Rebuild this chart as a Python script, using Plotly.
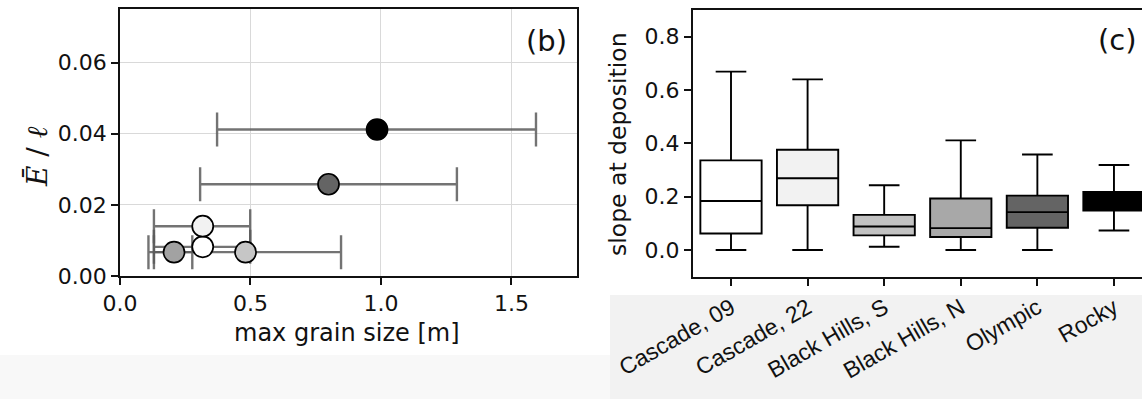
import plotly.graph_objects as go

W, H = 1142, 399

# ---------- panel (b): erosion rate vs. max grain size ----------
regions = ["Cascade, 09", "Cascade, 22", "Black Hills, S", "Black Hills, N", "Olympic", "Rocky"]
grain_size = [0.317, 0.317, 0.481, 0.207, 0.799, 0.985]
grain_low = [0.130, 0.130, 0.130, 0.109, 0.307, 0.372]
grain_high = [0.499, 0.499, 0.847, 0.277, 1.291, 1.594]
erosion_ratio = [0.0082, 0.0140, 0.0067, 0.0067, 0.0258, 0.0412]
point_colors = ["#ffffff", "#f2f2f2", "#c6c6c6", "#a2a2a2", "#646464", "#000000"]

# ---------- panel (c): slope at deposition ----------
slope_lower = [0.0, 0.0, 0.0125, 0.0, 0.0, 0.0735]
slope_q1 = [0.062, 0.168, 0.055, 0.049, 0.0835, 0.148]
slope_median = [0.184, 0.269, 0.0885, 0.082, 0.142, 0.180]
slope_q3 = [0.336, 0.376, 0.132, 0.193, 0.204, 0.218]
slope_upper = [0.669, 0.640, 0.243, 0.411, 0.358, 0.319]
box_colors = ["#ffffff", "#f2f2f2", "#c2c2c2", "#a8a8a8", "#646464", "#000000"]


def px_x(p):
    return p / W


def px_y(p):
    return 1 - p / H


fig = go.Figure()

fig.add_trace(go.Scatter(
    x=grain_size,
    y=erosion_ratio,
    mode="markers",
    marker=dict(size=21, color=point_colors, line=dict(color="#000000", width=1.7)),
    error_x=dict(
        type="data",
        symmetric=False,
        array=[h - x for h, x in zip(grain_high, grain_size)],
        arrayminus=[x - l for l, x in zip(grain_low, grain_size)],
        color="rgba(90,90,90,0.85)",
        thickness=2.4,
        width=17,
    ),
    xaxis="x",
    yaxis="y",
    showlegend=False,
    hoverinfo="skip",
))

for i, name in enumerate(regions):
    fig.add_trace(go.Box(
        x=[i],
        lowerfence=[slope_lower[i]],
        q1=[slope_q1[i]],
        median=[slope_median[i]],
        q3=[slope_q3[i]],
        upperfence=[slope_upper[i]],
        width=0.8,
        whiskerwidth=0.5,
        fillcolor=box_colors[i],
        line=dict(color="#000000", width=1.9),
        boxpoints=False,
        name=name,
        xaxis="x2",
        yaxis="y2",
        showlegend=False,
        hoverinfo="skip",
    ))

tick_font = dict(family="DejaVu Sans", size=22, color="#111111")
frame = dict(showline=True, linecolor="#111111", linewidth=1.6,
             ticks="outside", ticklen=7, tickwidth=1.5, tickcolor="#111111",
             tickfont=tick_font, zeroline=False, automargin=False)

fig.update_layout(
    width=W,
    height=H,
    margin=dict(l=0, r=0, t=0, b=0, autoexpand=False),
    paper_bgcolor="#ffffff",
    plot_bgcolor="#ffffff",
    xaxis=dict(
        domain=[px_x(120), px_x(576.7)],
        range=[0, 1.75],
        tickvals=[0, 0.5, 1.0, 1.5],
        ticktext=["0.0", "0.5", "1.0", "1.5"],
        showgrid=True, gridcolor="#d9d9d9", gridwidth=1,
        mirror=True, anchor="y",
        **frame,
    ),
    yaxis=dict(
        domain=[px_y(276), px_y(9.3)],
        range=[0, 0.075],
        tickvals=[0, 0.02, 0.04, 0.06],
        ticktext=["0.00", "0.02", "0.04", "0.06"],
        showgrid=True, gridcolor="#d9d9d9", gridwidth=1,
        mirror=True, anchor="x",
        **frame,
    ),
    xaxis2=dict(
        domain=[px_x(692.7), 1.0],
        range=[-0.5, 5.366],
        tickvals=list(range(len(regions))),
        ticktext=regions,
        tickangle=-30,
        showgrid=False,
        mirror=True, anchor="y2",
        **{**frame, "tickfont": dict(family="Liberation Sans", size=23, color="#111111")},
    ),
    yaxis2=dict(
        domain=[px_y(276.7), px_y(10)],
        range=[-0.1, 0.9],
        tickvals=[0, 0.2, 0.4, 0.6, 0.8],
        ticktext=["0.0", "0.2", "0.4", "0.6", "0.8"],
        showgrid=False,
        mirror=False, anchor="x2",
        **frame,
    ),
    shapes=[
        dict(type="rect", xref="paper", yref="paper", layer="below",
             x0=px_x(610), x1=1, y0=0, y1=px_y(295),
             fillcolor="#f2f2f2", line=dict(width=0)),
        dict(type="rect", xref="paper", yref="paper", layer="below",
             x0=0, x1=px_x(610), y0=0, y1=px_y(355),
             fillcolor="#f8f8f8", line=dict(width=0)),
    ],
    annotations=[
        dict(text="<i>Ē</i> / <i>ℓ</i>", x=px_x(37), y=px_y(156), xref="paper", yref="paper",
             showarrow=False, textangle=-90, xanchor="center", yanchor="middle",
             font=dict(family="DejaVu Serif", size=28, color="#111111")),
        dict(text="max grain size [m]", x=px_x(347), y=px_y(333), xref="paper", yref="paper",
             showarrow=False, xanchor="center", yanchor="middle",
             font=dict(family="DejaVu Sans", size=24, color="#111111")),
        dict(text="slope at deposition", x=px_x(618), y=px_y(144), xref="paper", yref="paper",
             showarrow=False, textangle=-90, xanchor="center", yanchor="middle",
             font=dict(family="DejaVu Sans", size=23.5, color="#111111")),
        dict(text="(b)", x=px_x(546), y=px_y(41), xref="paper", yref="paper",
             showarrow=False, xanchor="center", yanchor="middle",
             font=dict(family="DejaVu Sans", size=29, color="#111111")),
        dict(text="(c)", x=px_x(1117), y=px_y(40), xref="paper", yref="paper",
             showarrow=False, xanchor="center", yanchor="middle",
             font=dict(family="DejaVu Sans", size=29, color="#111111")),
    ],
)

fig.write_html("out.html")
